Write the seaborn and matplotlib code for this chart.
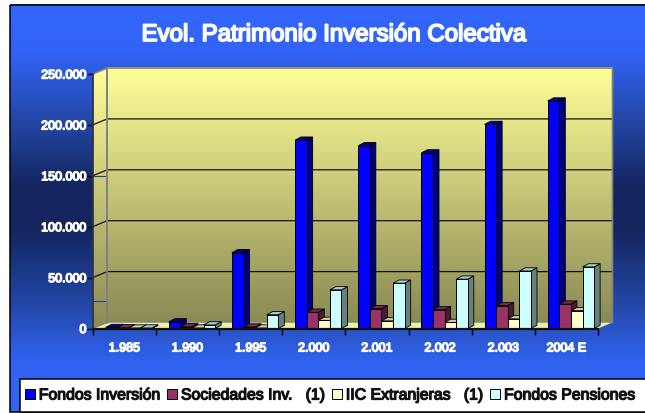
import numpy as np
import pandas as pd
import matplotlib
matplotlib.use("Agg")
import matplotlib.pyplot as plt
import matplotlib.patheffects as pe
from matplotlib.colors import LinearSegmentedColormap
from matplotlib.patches import Polygon, Rectangle
import seaborn as sns

years = ["1.985", "1.990", "1.995", "2.000", "2.001", "2.002", "2.003", "2004 E"]
fondos = [1000, 6500, 74500, 185000, 179500, 172500, 200500, 223500]
sociedades = [800, 1800, 1500, 16000, 19500, 18500, 22500, 24000]
iic = [500, 500, 500, 8000, 7500, 6000, 9500, 17500]
pensiones = [500, 3500, 13500, 38000, 44500, 48500, 56500, 60500]
series_names = ["Fondos Inversión", "Sociedades Inv.   (1)", "IIC Extranjeras   (1)", "Fondos Pensiones"]
front_colors = ["#0000FF", "#993366", "#FFFFCC", "#CCFFFF"]
side_colors = ["#000080", "#4D1A33", "#808066", "#668080"]
top_colors = ["#000099", "#7A2952", "#CCCCA3", "#A3CCCC"]
yticks = [0, 50000, 100000, 150000, 200000, 250000]
ytick_labels = ["0", "50.000", "100.000", "150.000", "200.000", "250.000"]
side_marks = [150000, 27000]

W, H = 645, 414
sns.set_theme(style="white")
plt.rcParams["font.family"] = ["Liberation Sans", "DejaVu Sans"]
fig = plt.figure(figsize=(W / 100, H / 100), dpi=100, facecolor="white")

# pixel-space backdrop
bg = fig.add_axes([0, 0, 1, 1], zorder=0)
bg.set_xlim(0, W); bg.set_ylim(H, 0); bg.axis("off")
sky = LinearSegmentedColormap.from_list("sky", [(0, "#3366FF"), (0.12, "#3163F5"), (0.3, "#22449F"),
                                                 (0.45, "#13245E"), (0.55, "#13245E"), (0.72, "#22449F"),
                                                 (0.88, "#3163F0"), (1, "#3366F0")])
g = np.linspace(0, 1, 256).reshape(-1, 1)
L, R, T, B = 9.5, 645, 5.5, 413
bg.imshow(g, cmap=sky, extent=[L, R, B, T], aspect="auto", zorder=0)
bg.set_xlim(0, W); bg.set_ylim(H, 0)
bg.add_patch(Rectangle((L, T), R - L + 2, B - T, fill=False, ec="black", lw=1.1, zorder=1))

x0, x1, y0, y1 = 92.7, 598, 329.5, 75
dxw, dyw = 14.5, 6
wall = LinearSegmentedColormap.from_list("wall", ["#FFFF99", "#8A8A55"])
back = bg.imshow(g, cmap=wall, extent=[x0 + dxw, x1 + dxw, y0 - dyw, y1 - dyw], aspect="auto", zorder=2)
side = bg.imshow(g, cmap=wall, extent=[x0, x0 + dxw, y0, y1 - dyw], aspect="auto", zorder=2)
side_poly = Polygon([(x0, y1), (x0 + dxw, y1 - dyw), (x0 + dxw, y0 - dyw), (x0, y0)], closed=True,
                    transform=bg.transData, fc="none", ec="none")
bg.add_patch(side_poly); side.set_clip_path(side_poly)
bg.set_xlim(0, W); bg.set_ylim(H, 0)
bg.add_patch(Polygon([(x0, y0), (x1, y0), (x1 + dxw, y0 - dyw), (x0 + dxw, y0 - dyw)], closed=True,
                     fc="#F0F0A0", ec="none", zorder=3))
scale = (y0 - y1) / 250000
for v in yticks[1:-1]:
    yy = y0 - v * scale
    bg.plot([x0, x0 + dxw, x1 + dxw], [yy, yy - dyw, yy - dyw], color="#111111", lw=0.9, zorder=4)
for v in side_marks:
    yy = y0 - v * scale
    bg.plot([x0, x0 + dxw], [yy, yy], color="#1F3FA0", lw=0.8, zorder=4)
bg.plot([x0 + dxw, x0 + dxw], [y0 - dyw, y1 - dyw], color="#808080", lw=1.4, zorder=4)
bg.plot([x0, x0 + dxw, x1 + dxw, x1 + dxw], [y1, y1 - dyw, y1 - dyw, y0 - dyw], color="#808080", lw=1.2, zorder=4)
bg.plot([x0, x0 + dxw], [y0, y0 - dyw], color="#808080", lw=0.8, zorder=4)

# legend box
bg.add_patch(Rectangle((20, 379.5), 640, 33, fc="white", ec="black", lw=1.1, zorder=5))

# main chart axes
ax = fig.add_axes([x0 / W, 1 - y0 / H, (x1 - x0) / W, (y0 - y1) / H], zorder=2)
ax.patch.set_alpha(0)
df = pd.DataFrame({
    "year": years * 4,
    "value": fondos + sociedades + iic + pensiones,
    "series": np.repeat(series_names, len(years)),
})
sns.barplot(data=df, x="year", y="value", hue="series", hue_order=series_names, palette=front_colors,
            order=years, width=0.735, gap=0, saturation=1, ax=ax, edgecolor="black", linewidth=0.7)
ax.set_xlim(-0.5, 7.5); ax.set_ylim(0, 250000)
ax.set_xlabel(""); ax.set_ylabel("")
ax.set_yticks(yticks); ax.set_yticklabels(ytick_labels)
ax.set_xticks(np.arange(-0.5, 8, 1), minor=True)
ax.grid(False)

cat_px = (x1 - x0) / 8
shift = 4.5 / cat_px
ddx, ddy = 6 / cat_px, 3.2 / scale
for c, cont in enumerate(ax.containers):
    for bar in cont:
        bar.set_x(bar.get_x() + shift)
        bx, bw, bh = bar.get_x(), bar.get_width(), bar.get_height()
        z = 3 + bx
        bar.set_zorder(z + 0.02)
        ax.add_patch(Polygon([(bx + bw, 0), (bx + bw + ddx, ddy), (bx + bw + ddx, bh + ddy), (bx + bw, bh)],
                             closed=True, fc=side_colors[c], ec="black", lw=0.6, zorder=z, clip_on=False))
        ax.add_patch(Polygon([(bx, bh), (bx + ddx, bh + ddy), (bx + bw + ddx, bh + ddy), (bx + bw, bh)],
                             closed=True, fc=top_colors[c], ec="black", lw=0.6, zorder=z + 0.01, clip_on=False))

for s in ["top", "right"]:
    ax.spines[s].set_visible(False)
ax.spines["left"].set_color("#333344"); ax.spines["left"].set_linewidth(1.3)
ax.spines["bottom"].set_color("#111111"); ax.spines["bottom"].set_linewidth(1.6)
ax.spines["bottom"].set_zorder(20)
ax.tick_params(axis="y", length=4.5, width=1.0, color="black", pad=0, left=True)
ax.tick_params(axis="x", which="major", length=0, pad=10)
ax.tick_params(axis="x", which="minor", length=4.5, width=1.0, color="black", bottom=True)
for t in ax.get_xticklabels() + ax.get_yticklabels():
    t.set_color("white"); t.set_fontsize(9.0)
    t.set_path_effects([pe.SimpleLineShadow(offset=(0.6, -0.6), shadow_color="#101840", alpha=0.7),
                        pe.withStroke(linewidth=1.0, foreground="white")])

title = fig.text((141 + 526) / 2 / W, 1 - 36 / H, "Evol. Patrimonio Inversión Colectiva", color="white",
                 fontsize=17.3, ha="center", va="center", zorder=5)
title.set_path_effects([pe.withStroke(linewidth=1.3, foreground="white")])

# legend
handles, labels = ax.get_legend_handles_labels()
if ax.get_legend():
    ax.get_legend().remove()
leg = fig.legend(handles, labels, ncol=4, loc="center left", bbox_to_anchor=(25 / W, 1 - 396 / H),
                 frameon=False, borderpad=0, borderaxespad=0, handlelength=0.62, handleheight=0.62,
                 handletextpad=0.25, columnspacing=0.42, prop={"size": 11.4})
leg.set_zorder(6)
for t in leg.get_texts():
    t.set_color("#111111")
    t.set_path_effects([pe.withStroke(linewidth=0.9, foreground="#111111")])

fig.savefig("out.png", dpi=100)
